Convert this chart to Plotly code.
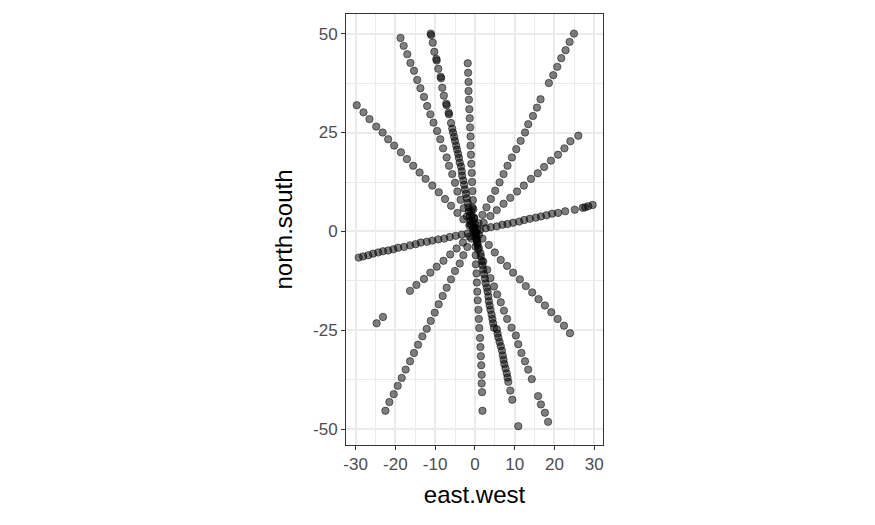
import plotly.graph_objects as go

# values, one list pair per ray
nw1_x = [-29.7, -28.0, -26.5, -24.8, -23.2, -21.8, -20.3, -18.6, -17.1, -15.5,
         -13.9, -12.4, -10.7, -9.1, -7.5, -6.0, -4.4, -2.9, -1.4]
nw1_y = [31.9, 30.1, 28.4, 26.5, 25.0, 23.3, 21.7, 20.0, 18.3, 16.6,
         14.9, 13.3, 11.6, 9.9, 8.2, 6.5, 4.7, 3.1, 1.5]
se1_x = [0.4, 1.9, 3.5, 5.0, 6.5, 8.1, 9.6, 11.3, 12.8, 14.4, 16.0, 17.6,
         19.2, 20.8, 22.4, 23.9]
se1_y = [-0.4, -1.8, -3.4, -5.3, -7.2, -8.7, -10.4, -12.1, -13.8, -15.4,
         -17.1, -18.7, -20.4, -22.1, -23.8, -25.7]

nw2_x = [-18.7, -17.9, -17.0, -16.2, -15.3, -14.5, -13.7, -12.8, -12.0, -11.2,
         -10.4, -9.5, -8.7, -8.0, -7.1, -6.5, -5.7, -5.0, -4.4, -3.6, -2.8,
         -2.0, -1.2, -0.4]
nw2_y = [48.9, 46.9, 44.8, 42.6, 40.6, 38.3, 36.2, 34.0, 31.7, 29.6,
         27.5, 25.4, 23.3, 21.0, 18.7, 16.6, 14.5, 12.3, 10.1, 8.0, 5.9,
         3.8, 1.9, 0.6]
se2_x = [0.7, 1.4, 2.1, 3.1, 3.9, 4.8, 5.6, 6.5, 7.3, 8.1, 9.2, 10.3, 10.9,
         11.7, 12.6, 13.4, 14.3, 15.9, 16.6, 17.6, 18.4]
se2_y = [-3.4, -5.5, -7.6, -9.7, -11.8, -13.9, -15.9, -17.9, -20.0, -22.1,
         -24.3, -26.3, -28.5, -30.7, -32.8, -34.9, -37.3, -41.6, -43.7,
         -45.8, -48.1]

nw3_x = [-11.1, -11.0, -10.6, -10.2, -9.6, -9.7, -9.2, -8.5, -8.6, -8.2, -7.8,
         -7.1, -7.2, -6.5, -6.6, -6.0, -5.5, -5.0, -4.5, -4.0, -3.5, -3.2,
         -2.7, -2.3, -1.8, -1.5, -1.1]
nw3_y = [50.0, 49.6, 47.7, 45.4, 43.2, 43.6, 41.1, 38.7, 39.1, 36.3, 34.3,
         31.9, 32.3, 29.6, 30.0, 27.4, 25.0, 22.9, 20.7, 18.6, 16.4, 14.1,
         11.8, 9.5, 7.2, 5.0, 2.8]
nw3b_x = [-5.7, -5.2, -4.7, -4.2, -3.8, -3.3, -2.9, -2.5, -2.0, -1.6, -1.3, -0.9]
nw3b_y = [26.0, 23.9, 21.7, 19.6, 17.4, 15.2, 12.9, 10.6, 8.4, 6.1, 3.9, 1.7]
se3_x = [0.5, 1.0, 1.5, 1.9, 2.3, 2.7, 3.2, 3.5, 3.9, 4.4, 4.8, 5.5, 5.9, 6.5,
         7.0, 7.4, 8.0, 8.4, 8.9, 9.4, 10.9]
se3_y = [-2.0, -4.2, -6.3, -8.5, -10.8, -13.1, -15.2, -17.6, -19.8, -22.1,
         -24.3, -24.7, -26.8, -29.0, -31.3, -33.5, -35.8, -38.0, -40.2, -42.5,
         -49.2]
se3b_x = [1.7, 2.1, 2.5, 3.0, 3.4, 3.7, 4.2, 4.6, 5.7, 6.2, 6.8, 7.2, 7.7, 8.2]
se3b_y = [-7.4, -9.6, -11.9, -14.2, -16.4, -18.7, -21.0, -23.2, -25.8, -27.9,
          -30.1, -32.4, -34.6, -36.9]

nv_x = [-1.8, -1.7, -1.6, -1.6, -1.5, -1.4, -1.3, -1.2, -1.1, -1.1, -1.0,
        -0.9, -0.8, -0.7, -0.6, -0.5, -0.4, -0.2, -0.1]
nv_y = [42.5, 40.1, 37.8, 35.5, 33.3, 30.9, 28.6, 26.3, 24.0, 21.7, 19.4,
        17.1, 14.8, 12.5, 10.2, 7.9, 5.6, 3.3, 1.0]
sv_x = [0.1, 0.15, 0.2, 0.25, 0.4, 0.5, 0.6, 0.7, 0.9, 1.0, 1.1, 1.3, 1.4,
        1.5, 1.6, 1.7, 1.7, 1.8, 1.9]
sv_y = [-1.5, -3.8, -6.0, -8.3, -10.6, -12.9, -15.2, -17.4, -19.8, -22.1,
        -24.4, -26.9, -29.2, -31.5, -33.8, -36.2, -38.4, -40.6, -45.3]

ne1_x = [24.9, 23.8, 22.8, 21.7, 20.7, 19.7, 18.6, 16.5, 15.6, 14.6, 13.4,
         12.6, 11.5, 10.4, 9.3, 8.2, 7.2, 6.2, 5.1, 4.0, 2.9, 1.9, 0.9]
ne1_y = [50.0, 47.9, 45.8, 43.8, 41.6, 39.5, 37.5, 33.4, 31.3, 29.2, 27.1,
         25.0, 22.9, 20.8, 18.7, 16.6, 14.5, 12.4, 10.3, 8.2, 6.1, 4.2, 2.1]
sw1_x = [-0.9, -1.9, -2.9, -3.8, -5.0, -6.0, -7.1, -8.1, -9.1, -10.1, -11.1,
         -12.1, -13.2, -14.3, -15.3, -16.3, -17.4, -18.4, -19.4, -20.4,
         -21.5, -22.5]
sw1_y = [-1.8, -3.9, -6.0, -8.1, -10.0, -12.1, -14.2, -16.3, -18.4, -20.5,
         -22.6, -24.6, -26.5, -28.6, -30.7, -32.8, -34.9, -37.0, -39.0,
         -41.1, -43.1, -45.3]

ne2_x = [26.0, 24.0, 22.5, 20.9, 19.1, 17.4, 15.8, 14.1, 12.3, 10.6, 8.9,
         7.2, 5.5, 3.9, 2.2, 0.6]
ne2_y = [24.2, 22.8, 21.0, 19.4, 17.9, 16.3, 14.7, 13.3, 11.6, 10.1, 8.5,
         7.0, 5.4, 3.9, 2.2, 0.6]
sw2_x = [-1.4, -3.0, -4.6, -6.2, -7.9, -9.6, -11.2, -12.8, -14.7, -16.3,
         -23.1, -24.7]
sw2_y = [-1.3, -2.8, -4.3, -5.8, -7.4, -8.9, -10.4, -12.0, -13.5, -15.0,
         -21.6, -23.2]

ew_x = [-29.2, -28.1, -26.8, -25.6, -24.3, -23.1, -21.8, -20.5, -19.3, -17.8,
        -16.3, -14.9, -13.6, -12.1, -10.7, -9.2, -7.7, -6.3, -4.8, -3.3, -1.8,
        -0.4, 1.3, 2.7, 4.0, 5.5, 6.9, 8.2, 9.6, 11.1, 12.4, 13.8, 15.3, 16.6,
        18.0, 19.4, 20.9, 22.7, 25.1, 27.1, 27.7, 28.5, 29.6]
ew_y = [-6.6, -6.3, -6.0, -5.6, -5.3, -5.0, -4.8, -4.5, -4.1, -3.9,
        -3.5, -3.2, -2.8, -2.6, -2.3, -2.0, -1.8, -1.4, -1.1, -0.8, -0.5,
        -0.1, 0.4, 0.8, 1.1, 1.3, 1.7, 1.9, 2.2, 2.5, 2.9, 3.2, 3.5, 3.8,
        4.1, 4.5, 4.7, 5.1, 5.5, 6.0, 6.1, 6.4, 6.7]

# crowded knot around the origin
mid_x = [-0.8, -0.5, -0.3, 0.0, 0.2, 0.4, 0.6, -0.6, -0.2, 0.1, 0.3, 0.8,
         -1.0, -0.4, 0.5, 1.0]
mid_y = [4.0, 2.5, 1.2, 0.2, -0.8, -1.8, -3.0, 6.0, 3.5, 1.8, -0.2, -4.5,
         5.2, 0.8, -2.5, -0.8]

x_ticks = [-30, -20, -10, 0, 10, 20, 30]
x_labels = ["-30", "-20", "-10", "0", "10", "20", "30"]
y_ticks = [-50, -25, 0, 25, 50]
y_labels = ["-50", "-25", "0", "25", "50"]

xs = (nw1_x + se1_x + nw2_x + se2_x + nw3_x + nw3b_x + se3_x + se3b_x
      + nv_x + sv_x + ne1_x + sw1_x + ne2_x + sw2_x + ew_x + mid_x)
ys = (nw1_y + se1_y + nw2_y + se2_y + nw3_y + nw3b_y + se3_y + se3b_y
      + nv_y + sv_y + ne1_y + sw1_y + ne2_y + sw2_y + ew_y + mid_y)

fig = go.Figure(go.Scatter(
    x=xs, y=ys,
    mode="markers",
    marker=dict(
        size=7.4,
        color="rgba(0,0,0,0.5)",
        line=dict(color="rgba(0,0,0,0.5)", width=1),
    ),
    showlegend=False,
))

grid = "#EBEBEB"
axis_common = dict(
    showgrid=True, gridcolor=grid, gridwidth=2,
    zeroline=False,
    showline=True, linecolor="#333333", linewidth=1, mirror=True,
    ticks="outside", ticklen=4, tickcolor="#333333", tickwidth=1,
    tickfont=dict(family="Liberation Sans, Arial, sans-serif", size=17, color="#4D4D4D"),
)

# the page body adds 8px on the left and top, margins allow for it
fig.update_layout(
    width=875, height=525,
    margin=dict(l=338, r=280, t=6, b=88),
    paper_bgcolor="white", plot_bgcolor="white",
    font=dict(family="Liberation Sans, Arial, sans-serif"),
    xaxis=dict(
        range=[-32.4, 32.2], tickvals=x_ticks, ticktext=x_labels,
        minor=dict(tickvals=[-25, -15, -5, 5, 15, 25], showgrid=True,
                   gridcolor=grid, gridwidth=1, ticks=""),
        title=dict(text="east.west", font=dict(size=24, color="black"), standoff=12),
        **axis_common,
    ),
    yaxis=dict(
        range=[-53.95, 54.95], tickvals=y_ticks, ticktext=y_labels,
        minor=dict(tickvals=[-37.5, -12.5, 12.5, 37.5], showgrid=True,
                   gridcolor=grid, gridwidth=1, ticks=""),
        title=dict(text="north.south", font=dict(size=24, color="black"), standoff=13),
        **axis_common,
    ),
)

fig.write_html("out.html")
